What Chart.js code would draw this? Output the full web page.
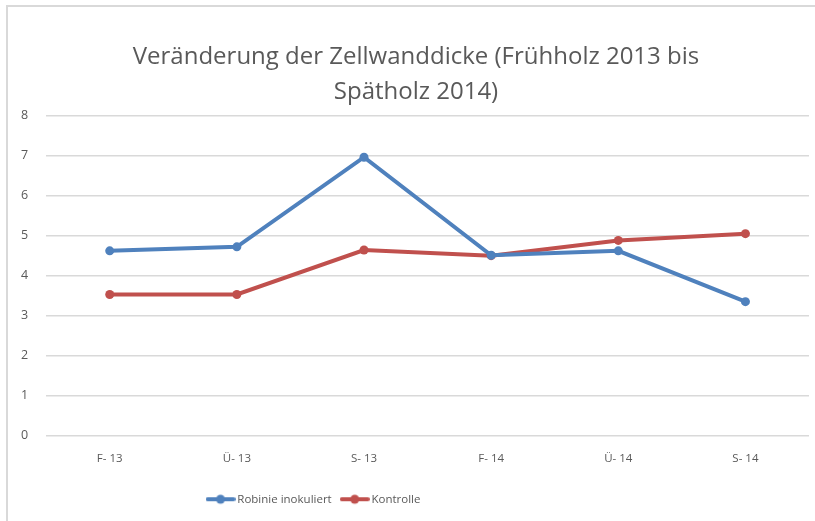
<!DOCTYPE html>
<html>
<head>
<meta charset="utf-8">
<script src="https://cdn.jsdelivr.net/npm/chart.js@4"></script>
<style>
  html, body { margin: 0; padding: 0; background: #fff; }
  #wrap { position: relative; width: 815px; height: 521px; }
  #frame {
    position: absolute; left: 6px; top: 5px; width: 830px; height: 540px;
    border: 2px solid #d9d9d9; pointer-events: none;
  }
</style>
</head>
<body>
<div id="wrap">
  <canvas id="chart" width="815" height="521"></canvas>
  <div id="frame"></div>
</div>
<script>
// measurement periods (F = Frühholz, Ü = Übergang, S = Spätholz)
const periods = ['F- 13', 'Ü- 13', 'S- 13', 'F- 14', 'Ü- 14', 'S- 14']
const robinie = [4.62, 4.72, 6.96, 4.51, 4.62, 3.35]
const kontrolle = [3.53, 3.53, 4.64, 4.50, 4.88, 5.05]
const titleLines = ['Veränderung der Zellwanddicke (Frühholz 2013 bis', 'Spätholz 2014)']

const BLUE = '#4f81bd'
const RED = '#c0504d'
const GREY = '#595959'
const FONT = "'Open Sans', sans-serif"
const TITLE_CENTER_X = 416
const LEGEND_CENTER_X = 315

// little line-with-dot marker for the legend
function legendMarker(color) {
    var c = document.createElement('canvas')
    c.width = 30
    c.height = 12
    var ctx = c.getContext('2d')
    ctx.strokeStyle = color
    ctx.lineWidth = 4
    ctx.lineCap = 'round'
    ctx.beginPath()
    ctx.moveTo(2, 6)
    ctx.lineTo(28, 6)
    ctx.stroke()
    ctx.fillStyle = color
    ctx.beginPath()
    ctx.arc(15, 6, 4.5, 0, Math.PI * 2)
    ctx.fill()
    return c
}

const markers = [legendMarker(BLUE), legendMarker(RED)]

// title and legend are not centred on the canvas, slide their boxes after layout
function centerBox(box, cx) {
    var dx = cx - (box.left + box.right) / 2
    box.left += dx
    box.right += dx
}

const boxShift = {
    id: 'boxShift',
    afterLayout: function(chart) {
        centerBox(chart.titleBlock, TITLE_CENTER_X)
        centerBox(chart.legend, LEGEND_CENTER_X)
    }
}

function series(label, values, color) {
    return {
        label: label,
        data: values,
        borderColor: color,
        backgroundColor: color,
        borderWidth: 4,
        pointRadius: 4.5,
        pointBorderWidth: 0,
        pointStyle: 'circle',
        tension: 0
    }
}

const config = {
    type: 'line',
    data: {
        labels: periods,
        datasets: [
            series('Robinie inokuliert', robinie, BLUE),
            series('Kontrolle', kontrolle, RED)
        ]
    },
    options: {
        responsive: false,
        animation: false,
        devicePixelRatio: 1,
        layout: {
            padding: { left: 3, right: 6, top: 40, bottom: 6 }
        },
        plugins: {
            title: {
                display: true,
                text: titleLines,
                color: GREY,
                font: { family: FONT, size: 24, weight: 'normal', lineHeight: 1.45 },
                padding: { top: 0, bottom: 6 }
            },
            legend: {
                position: 'bottom',
                labels: {
                    usePointStyle: true,
                    pointStyleWidth: 22,
                    color: GREY,
                    font: { family: FONT, size: 11.5 },
                    padding: 12,
                    generateLabels: function(chart) {
                        var items = Chart.defaults.plugins.legend.labels.generateLabels(chart)
                        items.forEach(function(item) {
                            item.pointStyle = markers[item.datasetIndex]
                        })
                        return items
                    }
                }
            },
            tooltip: { enabled: false }
        },
        scales: {
            x: {
                offset: true,
                grid: { display: false, drawTicks: false },
                border: { display: false },
                ticks: {
                    color: GREY,
                    font: { family: FONT, size: 11.5 },
                    padding: 16
                }
            },
            y: {
                min: 0,
                max: 8,
                grid: { color: '#d9d9d9', lineWidth: 1.5, drawTicks: false },
                border: { display: false },
                ticks: {
                    stepSize: 1,
                    color: GREY,
                    font: { family: FONT, size: 12.5 },
                    padding: 18
                }
            }
        }
    },
    plugins: [boxShift]
}

const myChart = new Chart(document.getElementById('chart'), config)
</script>
</body>
</html>
